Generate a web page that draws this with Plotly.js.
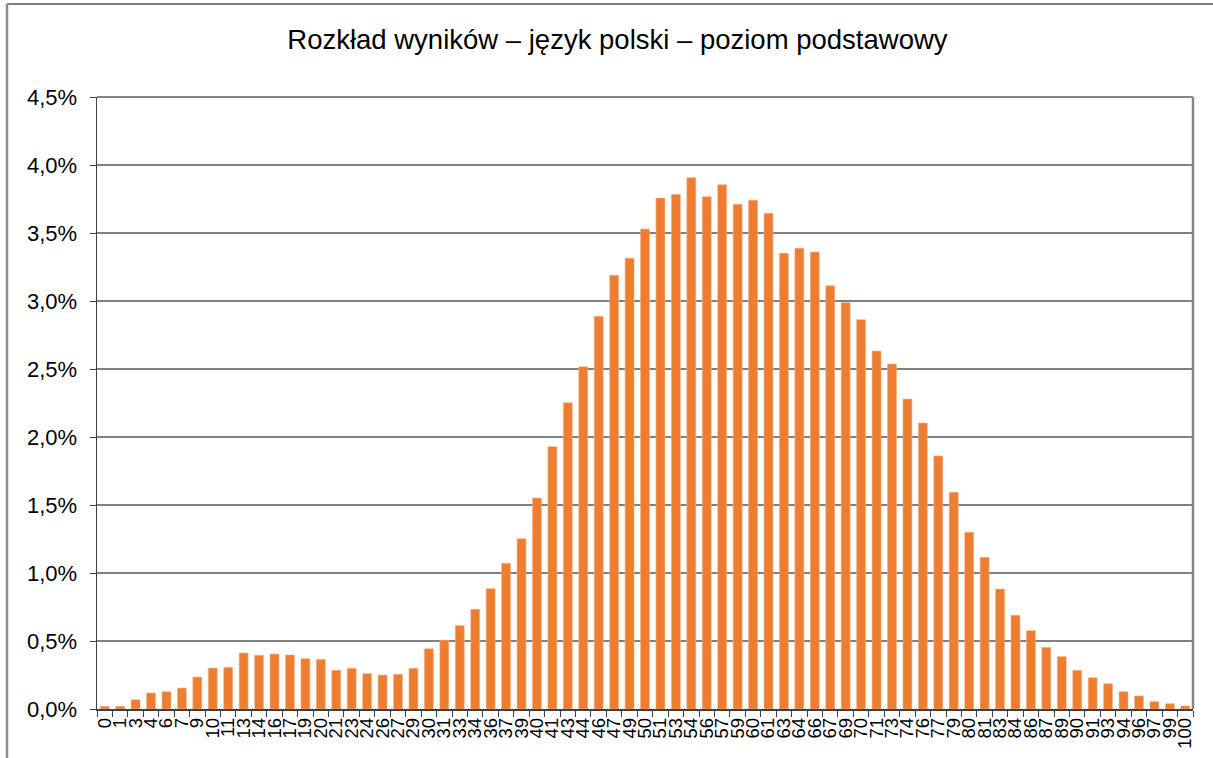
<!DOCTYPE html>
<html>
<head>
<meta charset="utf-8">
<script src="https://cdn.plot.ly/plotly-3.0.1.min.js"></script>
<style>html,body{margin:0;padding:0;background:#fff;}#chart{width:1213px;height:758px;}</style>
</head>
<body>
<div id="chart"></div>
<script>
var chartTitle = "Rozkład wyników – język polski – poziom podstawowy";
var scoreLabels = ["0","1","3","4","6","7","9","10","11","13","14","16","17","19","20","21","23","24","26","27","29","30","31","33","34","36","37","39","40","41","43","44","46","47","49","50","51","53","54","56","57","59","60","61","63","64","66","67","69","70","71","73","74","76","77","79","80","81","83","84","86","87","89","90","91","93","94","96","97","99","100"];
var sharePercent = [0.02,0.02,0.068,0.118,0.127,0.154,0.235,0.301,0.306,0.412,0.395,0.404,0.397,0.37,0.365,0.285,0.299,0.26,0.25,0.255,0.299,0.443,0.505,0.613,0.733,0.885,1.071,1.252,1.551,1.929,2.252,2.517,2.887,3.189,3.314,3.529,3.757,3.784,3.907,3.767,3.855,3.711,3.74,3.645,3.351,3.387,3.36,3.113,2.988,2.863,2.632,2.537,2.279,2.103,1.86,1.593,1.299,1.115,0.882,0.689,0.576,0.453,0.385,0.284,0.23,0.186,0.127,0.096,0.054,0.039,0.022];
var yTickValues = [0,0.5,1,1.5,2,2.5,3,3.5,4,4.5];
var yTickLabels = ["0,0%","0,5%","1,0%","1,5%","2,0%","2,5%","3,0%","3,5%","4,0%","4,5%"];

var trace = {
  type: 'bar',
  x: scoreLabels,
  y: sharePercent,
  marker: {color: '#ED7D31', line: {color: '#F6B183', width: 0.6}},
  hoverinfo: 'x+y'
};

var layout = {
  width: 1213, height: 758,
  margin: {l: 97, r: 20, t: 97, b: 49, pad: 0},
  paper_bgcolor: '#ffffff', plot_bgcolor: '#ffffff',
  showlegend: false,
  bargap: 0.42,
  title: {
    text: chartTitle,
    font: {family: 'Liberation Sans, Arial, sans-serif', size: 27.5, color: '#000000'},
    xref: 'container', x: 0.509, xanchor: 'center',
    yref: 'container', y: 0.948, yanchor: 'middle'
  },
  font: {family: 'Liberation Sans, Arial, sans-serif', color: '#000000'},
  xaxis: {
    type: 'category',
    tickmode: 'array',
    tickvals: scoreLabels,
    ticktext: scoreLabels,
    tickangle: -90,
    tickfont: {size: 18.5, color: '#000000'},
    ticks: 'outside', ticklen: 6, tickwidth: 1, tickcolor: '#404040',
    tickson: 'boundaries',
    showline: true, linecolor: '#404040', linewidth: 1.5,
    showgrid: false, zeroline: false,
    automargin: false,
    range: [-0.5, scoreLabels.length - 0.5]
  },
  yaxis: {
    range: [0, 4.5],
    tickmode: 'array',
    tickvals: yTickValues,
    ticktext: yTickLabels,
    tickfont: {size: 22, color: '#000000'},
    ticks: 'outside', ticklen: 6, tickwidth: 1, tickcolor: '#404040',
    ticklabelstandoff: 8,
    showline: true, linecolor: '#404040', linewidth: 1.5,
    showgrid: true, gridcolor: '#808080', gridwidth: 1.5,
    zeroline: false,
    automargin: false
  },
  shapes: [
    {type: 'line', xref: 'paper', yref: 'paper', x0: 0, x1: 1, y0: 1, y1: 1, line: {color: '#868686', width: 2}},
    {type: 'line', xref: 'paper', yref: 'paper', x0: 1, x1: 1, y0: 0, y1: 1, line: {color: '#868686', width: 2.5}},
    {type: 'line', xref: 'paper', yref: 'paper', x0: -90/1096, x1: 1.2, y0: 1 + 93/612, y1: 1 + 93/612, line: {color: '#7f7f7f', width: 2}},
    {type: 'line', xref: 'paper', yref: 'paper', x0: -90/1096, x1: -90/1096, y0: -0.2, y1: 1 + 93/612, line: {color: '#8c8c8c', width: 2.5}}
  ]
};

Plotly.newPlot('chart', [trace], layout, {displayModeBar: false, staticPlot: true});
</script>
</body>
</html>
